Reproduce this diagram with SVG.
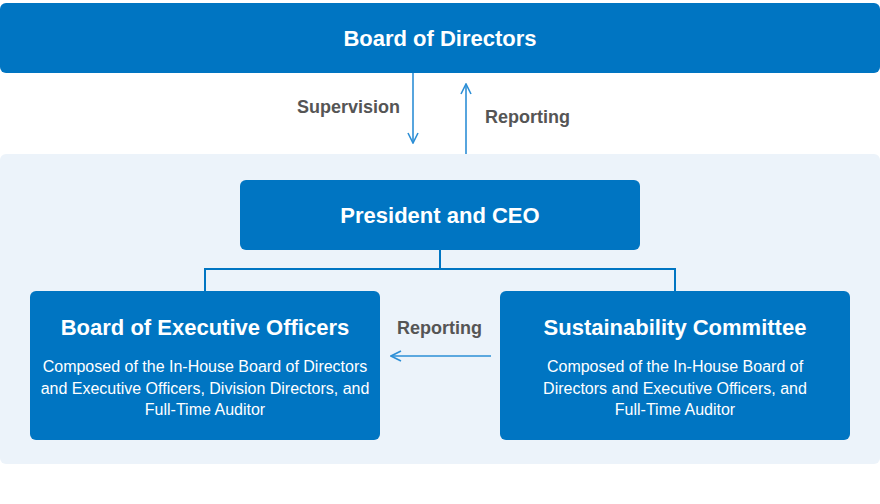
<svg xmlns="http://www.w3.org/2000/svg" width="880" height="504" viewBox="0 0 880 504">
<defs>
<style>
.box{fill:#0075c2}
.t{font-family:"Liberation Sans",Arial,sans-serif;fill:#fff;text-anchor:middle}
.h{font-size:22px;font-weight:bold}
.b{font-size:16px}
.lbl{font-family:"Liberation Sans",Arial,sans-serif;font-size:18px;font-weight:bold;fill:#555}
.arr{stroke:#2d8fd6;stroke-width:1.6;fill:none}
.conn{stroke:#0075c2;stroke-width:2;fill:none}
</style>
<marker id="ah" viewBox="0 0 12 12" refX="11" refY="6" markerWidth="12" markerHeight="12" markerUnits="userSpaceOnUse" orient="auto">
<path d="M1,1 L11,6 L1,11" fill="none" stroke="#2d8fd6" stroke-width="1.6"/>
</marker>
</defs>
<rect x="0" y="154" width="880" height="310" rx="6" fill="#ecf3fa"/>
<g id="board">
<rect class="box" x="0" y="3" width="880" height="70" rx="6"/>
<text class="t h" x="440" y="46">Board of Directors</text>
</g>
<g id="president">
<rect class="box" x="240" y="180" width="400" height="70" rx="6"/>
<text class="t h" x="440" y="223">President and CEO</text>
</g>
<g id="executive">
<rect class="box" x="30" y="291" width="350" height="149" rx="6"/>
<text class="t h" x="205" y="335">Board of Executive Officers</text>
<text class="t b" x="205" y="372">Composed of the In-House Board of Directors</text>
<text class="t b" x="205" y="394">and Executive Officers, Division Directors, and</text>
<text class="t b" x="205" y="415">Full-Time Auditor</text>
</g>
<g id="sustainability">
<rect class="box" x="500" y="291" width="350" height="149" rx="6"/>
<text class="t h" x="675" y="335">Sustainability Committee</text>
<text class="t b" x="675" y="372">Composed of the In-House Board of</text>
<text class="t b" x="675" y="394">Directors and Executive Officers, and</text>
<text class="t b" x="675" y="415">Full-Time Auditor</text>
</g>
<g id="connectors">
<path class="conn" d="M440,250 V269 M205,291 V269 H675 V291"/>
<path class="arr" d="M413,73 V143" marker-end="url(#ah)"/>
<path class="arr" d="M466,154 V84" marker-end="url(#ah)"/>
<path class="arr" d="M491,356 H391" marker-end="url(#ah)"/>
<text class="lbl" x="297" y="113">Supervision</text>
<text class="lbl" x="485" y="123">Reporting</text>
<text class="lbl" x="397" y="334">Reporting</text>
</g>
</svg>
